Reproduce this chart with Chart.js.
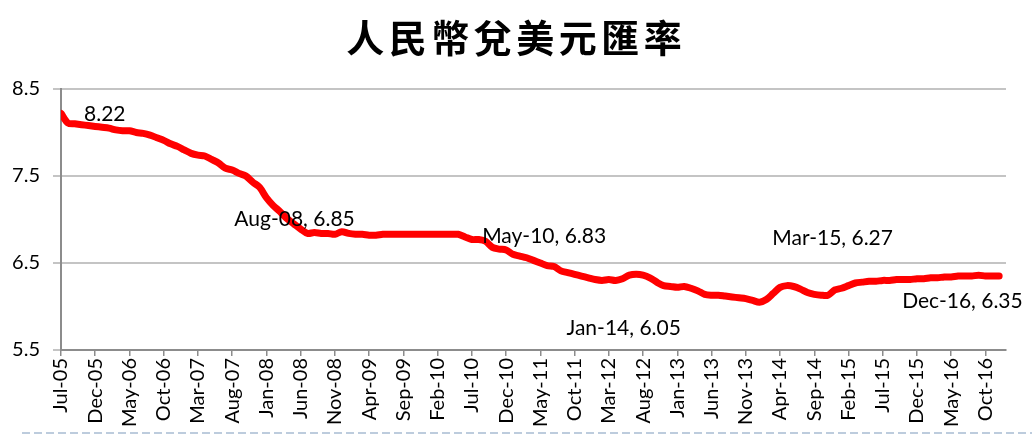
<!DOCTYPE html>
<html>
<head>
<meta charset="utf-8">
<title>人民幣兌美元匯率</title>
<script src="https://cdn.jsdelivr.net/npm/chart.js@4/dist/chart.umd.min.js"></script>
<style>
  html, body { margin: 0; padding: 0; background: #fff; }
  #wrap { position: relative; width: 1032px; height: 437px; }
</style>
</head>
<body>
<div id="wrap"><canvas id="rate-chart" width="1032" height="437"></canvas></div>
<script>
// monthly CNY per USD, Jul-05 .. Dec-16
const rates = [
  8.22, 8.11, 8.10, 8.09, 8.08, 8.07, 8.06, 8.05, 8.03, 8.02,
  8.02, 8.00, 7.99, 7.97, 7.94, 7.91, 7.87, 7.84, 7.80, 7.76,
  7.74, 7.73, 7.69, 7.65, 7.59, 7.57, 7.53, 7.50, 7.43, 7.37,
  7.25, 7.16, 7.09, 7.01, 6.95, 6.89, 6.84, 6.85, 6.84, 6.84,
  6.83, 6.86, 6.84, 6.83, 6.83, 6.82, 6.82, 6.83, 6.83, 6.83,
  6.83, 6.83, 6.83, 6.83, 6.83, 6.83, 6.83, 6.83, 6.83, 6.80,
  6.77, 6.77, 6.75, 6.68, 6.66, 6.65, 6.60, 6.58, 6.56, 6.53,
  6.50, 6.47, 6.46, 6.41, 6.39, 6.37, 6.35, 6.33, 6.31, 6.30,
  6.31, 6.30, 6.32, 6.36, 6.37, 6.36, 6.33, 6.28, 6.24, 6.23,
  6.22, 6.23, 6.21, 6.18, 6.14, 6.13, 6.13, 6.12, 6.11, 6.10,
  6.09, 6.07, 6.05, 6.08, 6.15, 6.22, 6.24, 6.23, 6.20, 6.16,
  6.14, 6.13, 6.13, 6.19, 6.21, 6.24, 6.27, 6.28, 6.29, 6.29,
  6.30, 6.30, 6.31, 6.31, 6.31, 6.32, 6.32, 6.33, 6.33, 6.34,
  6.34, 6.35, 6.35, 6.35, 6.36, 6.35, 6.35, 6.35
];

// one tick label every 5 months, starting at index 0
const tickLabels = [
  "Jul-05", "Dec-05", "May-06", "Oct-06", "Mar-07", "Aug-07", "Jan-08",
  "Jun-08", "Nov-08", "Apr-09", "Sep-09", "Feb-10", "Jul-10", "Dec-10",
  "May-11", "Oct-11", "Mar-12", "Aug-12", "Jan-13", "Jun-13", "Nov-13",
  "Apr-14", "Sep-14", "Feb-15", "Jul-15", "Dec-15", "May-16", "Oct-16"
];

const yTicks = [5.5, 6.5, 7.5, 8.5];

const titleText = "人民幣兌美元匯率";

// point labels
const noteIndex = [0, 37, 58, 102, 116, 137];
const noteText = ["8.22", "Aug-08, 6.85", "May-10, 6.83", "Jan-14, 6.05", "Mar-15, 6.27", "Dec-16, 6.35"];
// label offsets from the point (px)
const noteOffset = [[23, 1], [-80, -13], [24, 2], [-193, 26], [-83, -45], [-97, 25]];

const LABEL_FONT = "Lato, 'Open Sans', sans-serif";

const notesPlugin = {
  id: "notes",
  afterDatasetsDraw(chart) {
    const ctx = chart.ctx;
    const xs = chart.scales.x, ys = chart.scales.y;
    ctx.save();

    // title, spaced out like the original
    ctx.font = "bold 38px 'Noto Sans CJK TC', 'Noto Sans CJK SC', sans-serif";
    ctx.fillStyle = "#000";
    ctx.letterSpacing = "4.5px";
    ctx.textAlign = "left";
    ctx.textBaseline = "middle";
    const tw = ctx.measureText(titleText).width - 4.5;
    ctx.fillText(titleText, 514 - tw / 2, 38);
    ctx.letterSpacing = "0px";

    ctx.font = "21px " + LABEL_FONT;
    noteIndex.forEach((idx, i) => {
      const px = xs.getPixelForValue(idx);
      const py = ys.getPixelForValue(rates[idx]);
      ctx.fillText(noteText[i], px + noteOffset[i][0], py + noteOffset[i][1]);
    });

    // dashed divider along the bottom
    ctx.strokeStyle = "#a8bcd2";
    ctx.lineWidth = 1.5;
    ctx.setLineDash([8, 4]);
    ctx.beginPath();
    ctx.moveTo(22, 433);
    ctx.lineTo(chart.width, 433);
    ctx.stroke();
    ctx.restore();
  }
};

new Chart(document.getElementById("rate-chart"), {
  type: "line",
  data: {
    datasets: [{
      data: rates.map((v, i) => ({ x: i, y: v })),
      borderColor: "#ff0000",
      borderWidth: 7,
      pointRadius: 0,
      tension: 0.3,
      borderCapStyle: "round",
      borderJoinStyle: "round"
    }]
  },
  options: {
    responsive: false,
    animation: false,
    layout: { padding: { left: 0, right: 26, top: 89, bottom: 0 } },
    plugins: {
      legend: { display: false },
      tooltip: { enabled: false },
      title: { display: false }
    },
    scales: {
      x: {
        type: "linear",
        min: 0,
        max: 138,
        afterFit: s => { s.height = 87; },
        afterBuildTicks: s => {
          s.ticks = tickLabels.map((_, k) => ({ value: k * 5 }));
        },
        ticks: {
          autoSkip: false,
          minRotation: 90,
          maxRotation: 90,
          padding: 2,
          color: "#000",
          font: { family: LABEL_FONT, size: 20 },
          callback: v => tickLabels[v / 5]
        },
        grid: { drawOnChartArea: false, tickLength: 6, color: "#8c8c8c", lineWidth: 1.5 },
        border: { color: "#8c8c8c", width: 2 }
      },
      y: {
        min: 5.5,
        max: 8.5,
        afterFit: s => { s.width = 61; },
        afterBuildTicks: s => {
          s.ticks = yTicks.map(v => ({ value: v }));
        },
        ticks: {
          padding: 13,
          color: "#000",
          font: { family: LABEL_FONT, size: 20 },
          callback: v => v.toFixed(1)
        },
        grid: { color: "#c4c4c4", lineWidth: 2, tickLength: 8 },
        border: { color: "#8c8c8c", width: 2 }
      }
    }
  },
  plugins: [notesPlugin]
});
</script>
</body>
</html>
